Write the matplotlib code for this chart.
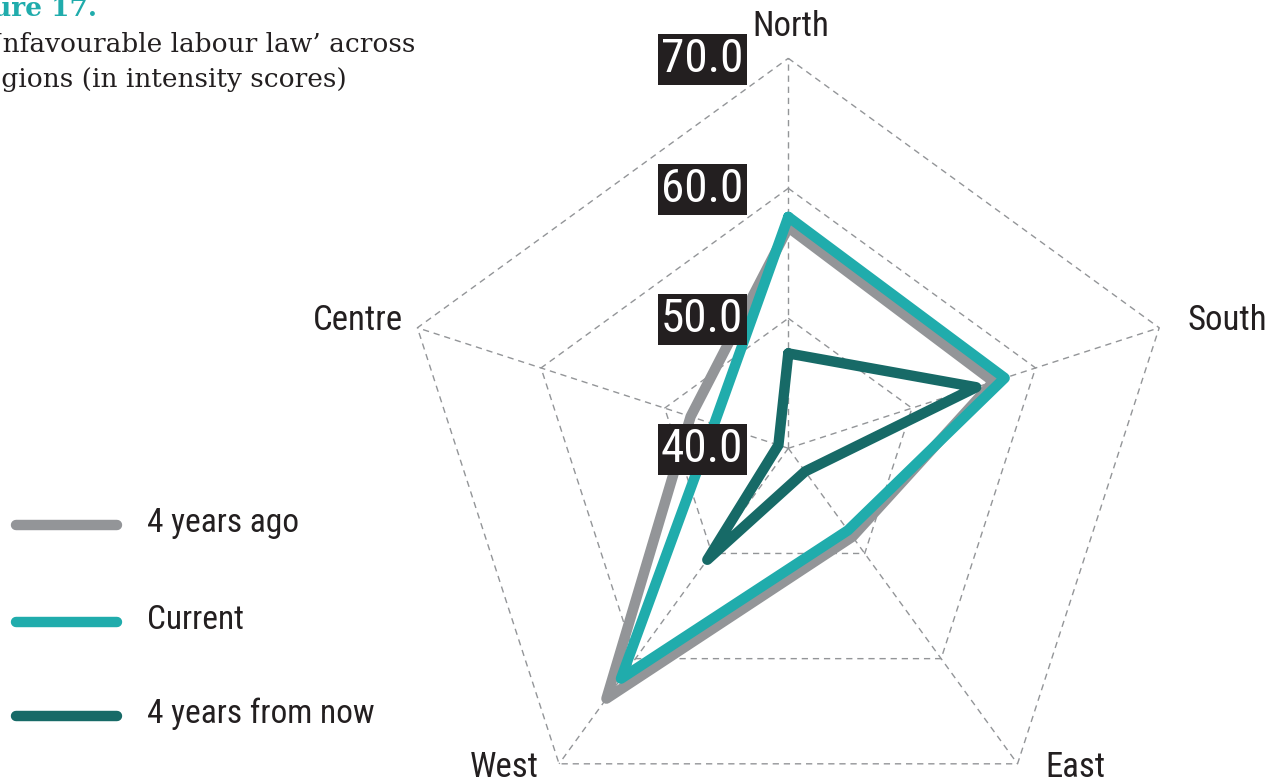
import numpy as np
import matplotlib
matplotlib.use('Agg')
import matplotlib.pyplot as plt
from matplotlib.lines import Line2D
from matplotlib import font_manager

regions = ['North', 'South', 'East', 'West', 'Centre']
series_names = ['4 years ago', 'Current', '4 years from now']
four_years_ago = [57.0, 56.6, 48.4, 63.8, 47.9]
current = [57.8, 57.5, 47.8, 61.9, 46.0]
four_years_from_now = [47.3, 55.2, 42.2, 50.6, 40.8]
ring_values = [40.0, 50.0, 60.0, 70.0]

GREY = '#939598'
TEAL = '#20acac'
DARK_TEAL = '#176a67'
INK = '#231f20'

# pick a condensed sans if one is around
fonts = font_manager.fontManager.ttflist
names = {f.name for f in fonts}
narrow, stretch = 'DejaVu Sans', 'normal'
for cand in ['Roboto Condensed', 'Liberation Sans Narrow', 'Noto Sans Condensed',
             'Open Sans Condensed', 'DejaVu Sans Condensed']:
    if cand in names:
        narrow = cand
        break
else:
    for f in fonts:
        if str(f.stretch) in ('condensed', 'semi-condensed', 'extra-condensed') \
                and f.name in ('Roboto', 'Noto Sans', 'Open Sans', 'DejaVu Sans', 'Inter'):
            narrow, stretch = f.name, f.stretch
            break

txt = dict(family=narrow, fontstretch=stretch)

fig = plt.figure(figsize=(12.81, 7.82), dpi=100)
W, H = 1281, 782
cx, cy, R = 788.3, 448.3, 390.0
ax = fig.add_axes([(cx - R) / W, (H - cy - R) / H, 2 * R / W, 2 * R / H],
                  projection='polar')
ax.set_theta_zero_location('N')
ax.set_theta_direction(-1)
ax.set_rlim(40, 70)
ax.grid(False)
ax.set_xticks([])
ax.set_yticks([])
ax.spines['polar'].set_visible(False)
ax.patch.set_visible(False)

theta = np.deg2rad(np.arange(len(regions)) * 72.0)
closed_theta = np.append(theta, theta[0])

# dashed pentagon rings and spokes
for rv in ring_values[1:]:
    ax.plot(closed_theta, [rv] * len(closed_theta), color=GREY, lw=1.0,
            ls=(0, (4.5, 3.5)), zorder=1, clip_on=False)
for t in theta:
    ax.plot([t, t], [40, 70], color=GREY, lw=1.0, ls=(0, (4.5, 3.5)), zorder=1,
            clip_on=False)

series = [four_years_ago, current, four_years_from_now]
colors = [GREY, TEAL, DARK_TEAL]
for vals, col in zip(series, colors):
    ax.plot(closed_theta, vals + vals[:1], color=col, lw=7.5,
            solid_joinstyle='round', solid_capstyle='round', zorder=3,
            clip_on=False)

# ring value labels along the North spoke
for rv in ring_values:
    ax.annotate(f'{rv:.1f}', xy=(0, rv), xytext=(-45, -1),
                textcoords='offset pixels', ha='right', va='center',
                fontsize=34, color='white', zorder=5,
                bbox=dict(boxstyle='square,pad=0.07', fc=INK, ec='none'), **txt)

# region labels around the outer ring
label_offsets = {
    'North': (3, 32, 'center', 'center'),
    'South': (28, 7, 'left', 'center'),
    'East': (28, -4, 'left', 'center'),
    'West': (-20, -4, 'right', 'center'),
    'Centre': (-14, 7, 'right', 'center'),
}
for t, name in zip(theta, regions):
    dx, dy, ha, va = label_offsets[name]
    ax.annotate(name, xy=(t, 70), xytext=(dx, dy), textcoords='offset pixels',
                ha=ha, va=va, fontsize=25, color=INK,
                annotation_clip=False, **txt)

# legend
legend_y = [525, 622, 716]
for y, name, col in zip(legend_y, series_names, colors):
    fig.add_artist(Line2D([16 / W, 117 / W], [1 - y / H, 1 - y / H], color=col,
                          lw=7.5, solid_capstyle='round'))
    fig.text(147 / W, 1 - (y - 2) / H, name, ha='left', va='center',
             fontsize=24, color=INK, **txt)

# title block, running off the left edge
fig.text(97 / W, 1 - 16 / H, 'Figure 17.', ha='right', va='baseline',
         fontsize=19, fontweight='bold', family='DejaVu Serif', color=TEAL)
fig.text(415 / W, 1 - 52 / H, '\u2018Unfavourable labour law\u2019 across',
         ha='right', va='baseline', fontsize=19, family='DejaVu Serif',
         color=INK)
fig.text(347 / W, 1 - 87 / H, 'regions (in intensity scores)', ha='right',
         va='baseline', fontsize=19, family='DejaVu Serif', color=INK)

fig.savefig('out.png', dpi=100)
